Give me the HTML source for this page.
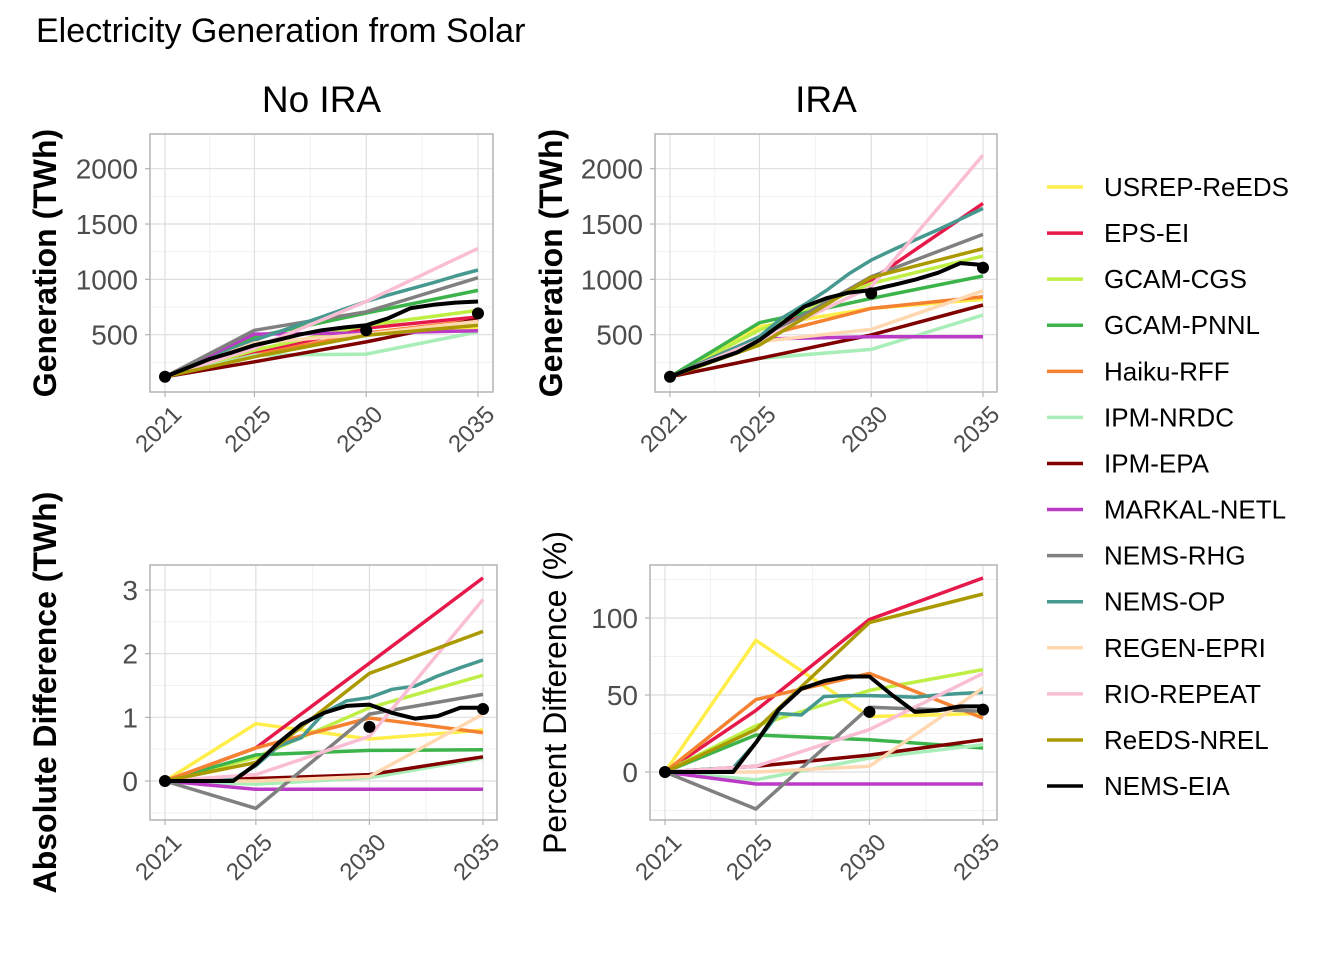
<!DOCTYPE html>
<html><head><meta charset="utf-8">
<style>
html,body{margin:0;padding:0;background:#fff;}
svg{display:block;font-family:"Liberation Sans",Arial,sans-serif;}
</style></head>
<body>
<svg id="chart" width="1344" height="960" viewBox="0 0 1344 960" xmlns="http://www.w3.org/2000/svg">
<rect width="1344" height="960" fill="#fff"/>
<text x="36" y="42" font-size="34" fill="#000">Electricity Generation from Solar</text>
<g id="panels"></g>
<g id="legend"></g>
</svg>
<script>
const models = ["USREP-ReEDS","EPS-EI","GCAM-CGS","GCAM-PNNL","Haiku-RFF","IPM-NRDC","IPM-EPA","MARKAL-NETL","NEMS-RHG","NEMS-OP","REGEN-EPRI","RIO-REPEAT","ReEDS-NREL","NEMS-EIA"];
const colors = ["#FFEE4A","#E6194B","#BFEF45","#3CB44B","#F58231","#A9EEB8","#800000","#BB3BC6","#808080","#469990","#FFD8B1","#FABED4","#AA9A00","#000000"];
const years5 = [2021,2025,2030,2035];
const yearsAnnual = [2021,2022,2023,2024,2025,2026,2027,2028,2029,2030,2031,2032,2033,2034,2035];
const pointYears = [2021,2030,2035];

// No IRA generation (TWh)
const noIraUSREP = [120,330,500,570];
const noIraEPS = [120,340,560,660];
const noIraGCAMCGS = [120,360,585,720];
const noIraGCAMPNNL = [120,480,695,900];
const noIraHaiku = [120,315,515,630];
const noIraIPMNRDC = [120,315,325,525];
const noIraIPMEPA = [120,255,435,640];
const noIraMARKAL = [120,505,515,535];
const noIraNEMSRHG = [120,540,707,1015];
const noIraNEMSOP = [120,200,280,370,450,520,590,660,730,800,860,915,970,1030,1085];
const noIraREGEN = [120,425,505,620];
const noIraRIO = [120,380,800,1280];
const noIraReEDS = [120,300,495,585];
const noIraEIA = [120,200,280,340,405,450,500,540,565,585,650,740,770,790,800];
const noIraEIAPoints = [120,540,693];

// IRA generation (TWh)
const iraUSREP = [120,572,738,819];
const iraEPS = [120,480,994,1686];
const iraGCAMCGS = [120,542,964,1210];
const iraGCAMPNNL = [120,608,828,1030];
const iraHaiku = [120,482,738,843];
const iraIPMNRDC = [120,286,367,677];
const iraIPMEPA = [120,286,497,768];
const iraMARKAL = [120,460,482,482];
const iraNEMSRHG = [120,450,1024,1406];
const iraNEMSOP = [120,210,300,390,482,650,770,900,1050,1174,1270,1360,1450,1545,1641];
const iraREGEN = [120,437,548,897];
const iraRIO = [120,450,933,2123];
const iraReEDS = [120,406,1018,1277];
const iraEIA = [120,200,270,340,450,600,752,830,880,903,950,1000,1060,1147,1130];
const iraEIAPoints = [120,873,1105];

// Absolute difference
const absUSREP = [0,0.9,0.66,0.8];
const absEPS = [0,0.52,1.85,3.19];
const absGCAMCGS = [0,0.37,1.15,1.66];
const absGCAMPNNL = [0,0.41,0.48,0.49];
const absHaiku = [0,0.52,0.99,0.76];
const absIPMNRDC = [0,-0.05,0.05,0.36];
const absIPMEPA = [0,0.04,0.1,0.38];
const absMARKAL = [0,-0.13,-0.13,-0.13];
const absNEMSRHG = [0,-0.43,1.05,1.36];
const absNEMSOP = [0,0.01,0.02,0.03,0.24,0.55,0.68,1.07,1.26,1.31,1.44,1.49,1.65,1.78,1.9];
const absREGEN = [0,0,0.07,1.05];
const absRIO = [0,0.1,0.7,2.85];
const absReEDS = [0,0.29,1.69,2.35];
const absEIA = [0,0,0,0,0.26,0.6,0.89,1.07,1.18,1.2,1.07,0.98,1.02,1.15,1.15];
const absEIAPoints = [0,0.85,1.13];

// Percent difference
const pctUSREP = [0,85.5,36,38];
const pctEPS = [0,40,99,126];
const pctGCAMCGS = [0,30,53,66.5];
const pctGCAMPNNL = [0,24,21,15.6];
const pctHaiku = [0,47,64,35];
const pctIPMNRDC = [0,-5,9,17.7];
const pctIPMEPA = [0,3.7,11,21];
const pctMARKAL = [0,-7.8,-7.8,-7.8];
const pctNEMSRHG = [0,-24,42,39.4];
const pctNEMSOP = [0,1,2,2.6,19,38,37,49,49.6,49.6,49.2,48.5,50,51,51.7];
const pctREGEN = [0,0,3.7,54.5];
const pctRIO = [0,3.7,27.5,64];
const pctReEDS = [0,27.5,97,115.6];
const pctEIA = [0,0,0,0,19,40.5,54,59,62,62,50,39,40,42.6,42.6];
const pctEIAPoints = [0,39,40.5];

const yTicksGen = [500,1000,1500,2000];
const yTicksAbs = [0,1,2,3];
const yTicksPct = [0,50,100];
const xTicks = [2021,2025,2030,2035];

const NS="http://www.w3.org/2000/svg";
function mk(tag, attrs, parent){const e=document.createElementNS(NS,tag);for(const k in attrs)e.setAttribute(k,attrs[k]);parent.appendChild(e);return e;}
function lin(d0,d1,r0,r1){return v=>r0+(v-d0)*(r1-r0)/(d1-d0);}

const panelsG=document.getElementById('panels');
const panels=[
 {name:"no-ira",box:[150,134,493,392],x:lin(2021,2035,165,478),y:lin(500,2000,334.7,168.7),yt:yTicksGen,ymin:[250,750,1250,1750],
  data:[noIraUSREP,noIraEPS,noIraGCAMCGS,noIraGCAMPNNL,noIraHaiku,noIraIPMNRDC,noIraIPMEPA,noIraMARKAL,noIraNEMSRHG,noIraNEMSOP,noIraREGEN,noIraRIO,noIraReEDS,noIraEIA],pts:noIraEIAPoints,title:"No IRA",ytitle:"Generation (TWh)",bold:true,ytx:56},
 {name:"ira",box:[655,134,997,392],x:lin(2021,2035,670,983),y:lin(500,2000,334.7,168.7),yt:yTicksGen,ymin:[250,750,1250,1750],
  data:[iraUSREP,iraEPS,iraGCAMCGS,iraGCAMPNNL,iraHaiku,iraIPMNRDC,iraIPMEPA,iraMARKAL,iraNEMSRHG,iraNEMSOP,iraREGEN,iraRIO,iraReEDS,iraEIA],pts:iraEIAPoints,title:"IRA",ytitle:"Generation (TWh)",bold:true,ytx:562},
 {name:"absolute-difference",box:[150,565,497,820],x:lin(2021,2035,165,483),y:lin(0,3,781,590),yt:yTicksAbs,ymin:[-0.5,0.5,1.5,2.5],
  data:[absUSREP,absEPS,absGCAMCGS,absGCAMPNNL,absHaiku,absIPMNRDC,absIPMEPA,absMARKAL,absNEMSRHG,absNEMSOP,absREGEN,absRIO,absReEDS,absEIA],pts:absEIAPoints,title:null,ytitle:"Absolute Difference (TWh)",bold:true,ytx:56},
 {name:"percent-difference",box:[650,565,997,820],x:lin(2021,2035,665,983),y:lin(0,100,772,618),yt:yTicksPct,ymin:[-25,25,75,125],
  data:[pctUSREP,pctEPS,pctGCAMCGS,pctGCAMPNNL,pctHaiku,pctIPMNRDC,pctIPMEPA,pctMARKAL,pctNEMSRHG,pctNEMSOP,pctREGEN,pctRIO,pctReEDS,pctEIA],pts:pctEIAPoints,title:null,ytitle:"Percent Difference (%)",bold:false,ytx:566}
];
const xMinor=[2023,2027.5,2032.5];

panels.forEach(p=>{
 const g=mk('g',{},panelsG);
 
 
 const [x0,y0,x1,y1]=p.box;
 const clipId='clip-'+p.name;
 const cp=mk('clipPath',{id:clipId},g);mk('rect',{x:x0,y:y0,width:x1-x0,height:y1-y0},cp);
 xMinor.forEach(v=>{mk('line',{x1:p.x(v),x2:p.x(v),y1:y0,y2:y1,stroke:"#f1f1f1","stroke-width":1},g);});
 p.ymin.forEach(v=>{const yy=p.y(v);if(yy>y0&&yy<y1)mk('line',{x1:x0,x2:x1,y1:yy,y2:yy,stroke:"#f1f1f1","stroke-width":1},g);});
 xTicks.forEach(v=>{const xx=p.x(v);
  mk('line',{x1:xx,x2:xx,y1:y0,y2:y1,stroke:"#dedede","stroke-width":1.2},g);
  mk('line',{x1:xx,x2:xx,y1:y1,y2:y1+5,stroke:"#b3b3b3","stroke-width":1.2},g);
  const t=mk('text',{transform:`translate(${xx+6},${y1+12}) rotate(-45)`,"text-anchor":"end","font-size":24,fill:"#4d4d4d","dominant-baseline":"hanging"},g);
  t.textContent=v;
  
  
 });
 p.yt.forEach(v=>{const yy=p.y(v);
  mk('line',{x1:x0,x2:x1,y1:yy,y2:yy,stroke:"#dedede","stroke-width":1.2},g);
  mk('line',{x1:x0-5,x2:x0,y1:yy,y2:yy,stroke:"#b3b3b3","stroke-width":1.2},g);
  const t=mk('text',{x:x0-12,y:yy+10,"text-anchor":"end","font-size":28,fill:"#4d4d4d"},g);
  t.textContent=v;
  
  
 });
 mk('rect',{x:x0,y:y0,width:x1-x0,height:y1-y0,fill:"none",stroke:"#b3b3b3","stroke-width":1.5},g);
 const sg=mk('g',{"clip-path":`url(#${clipId})`},g);
 p.data.forEach((vals,i)=>{
  const yrs=vals.length===4?years5:yearsAnnual;
  const d=vals.map((v,j)=>(j?'L':'M')+p.x(yrs[j]).toFixed(1)+','+p.y(v).toFixed(1)).join(' ');
  const path=mk('path',{d:d,fill:"none",stroke:colors[i],"stroke-width":i===13?4:3.5,"stroke-linejoin":"round"},sg);
  
  
 });
 p.pts.forEach((v,j)=>{
  const c=mk('circle',{cx:p.x(pointYears[j]),cy:p.y(v),r:6,fill:"#000"},g);
  
  
 });
 if(p.title){
  const t=mk('text',{x:(x0+x1)/2,y:112,"text-anchor":"middle","font-size":37,fill:"#000"},g);
  t.textContent=p.title;
  
  
 }
 const cy=(y0+y1)/2;
 const yt=mk('text',{transform:`translate(${p.ytx},${cy}) rotate(-90)`,"text-anchor":"middle","font-size":32,"font-weight":p.bold?"bold":"normal",fill:"#000"},g);
 yt.textContent=p.ytitle;
 
 
});

const lg=document.getElementById('legend');
models.forEach((m,i)=>{
 const y=187+i*46.08;
 const e=mk('g',{},lg);
 
 
 mk('line',{x1:1047,x2:1083,y1:y,y2:y,stroke:colors[i],"stroke-width":3.5},e);
 const t=mk('text',{x:1104,y:y+9,"font-size":26,fill:"#000"},e);
 t.textContent=m;
});
</script>
</body></html>
